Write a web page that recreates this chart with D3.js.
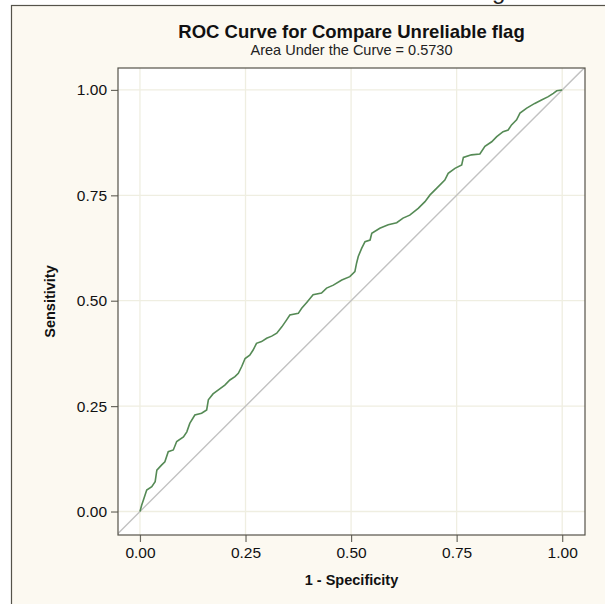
<!DOCTYPE html>
<html>
<head>
<meta charset="utf-8">
<script src="https://cdn.jsdelivr.net/npm/d3@7"></script>
<style>
  body { margin: 0; background: #fff; }
  svg { display: block; font-family: "Liberation Sans", Arial, sans-serif; }
</style>
</head>
<body>
<div id="chart"></div>
<script>
// ROC points (1 - specificity, sensitivity)
const fpr = [0, 0.004, 0.008, 0.016, 0.028, 0.036, 0.040, 0.051, 0.059, 0.067,
  0.079, 0.087, 0.103, 0.111, 0.118, 0.130, 0.146, 0.158, 0.162, 0.173,
  0.185, 0.201, 0.213, 0.225, 0.233, 0.241, 0.249, 0.260, 0.268, 0.276,
  0.288, 0.300, 0.312, 0.324, 0.336, 0.347, 0.355, 0.375, 0.383, 0.395,
  0.410, 0.430, 0.442, 0.458, 0.478, 0.497, 0.509, 0.513, 0.517, 0.525,
  0.533, 0.545, 0.549, 0.568, 0.588, 0.608, 0.623, 0.639, 0.659, 0.675,
  0.687, 0.703, 0.722, 0.730, 0.746, 0.762, 0.766, 0.785, 0.805, 0.817,
  0.833, 0.845, 0.860, 0.872, 0.880, 0.892, 0.900, 0.916, 0.935, 0.951,
  0.967, 0.979, 0.987, 1];
const tpr = [0, 0.015, 0.027, 0.051, 0.059, 0.071, 0.098, 0.110, 0.118, 0.142,
  0.146, 0.166, 0.177, 0.189, 0.209, 0.229, 0.233, 0.241, 0.265, 0.279,
  0.288, 0.300, 0.312, 0.320, 0.328, 0.344, 0.363, 0.371, 0.383, 0.399,
  0.403, 0.411, 0.416, 0.423, 0.438, 0.454, 0.466, 0.470, 0.482, 0.496,
  0.514, 0.518, 0.530, 0.537, 0.549, 0.557, 0.569, 0.589, 0.605, 0.624,
  0.640, 0.644, 0.660, 0.672, 0.680, 0.685, 0.696, 0.703, 0.719, 0.735,
  0.751, 0.767, 0.786, 0.802, 0.814, 0.822, 0.840, 0.846, 0.848, 0.866,
  0.877, 0.889, 0.901, 0.905, 0.917, 0.929, 0.945, 0.957, 0.968, 0.976,
  0.984, 0.992, 0.998, 1];
const ticks = [0, 0.25, 0.5, 0.75, 1];
const title = "ROC Curve for Compare Unreliable flag";
const subtitle = "Area Under the Curve = 0.5730";

const width = 605, height = 604;
const pLeft = 118, pRight = 585, pTop = 68, pBottom = 535;

const svg = d3.select("#chart").append("svg")
  .attr("width", width)
  .attr("height", height);

// outer frame (cream page with edge at left and top)
svg.append("rect").attr("width", width).attr("height", height).attr("fill", "#fff");
svg.append("rect")
  .attr("x", 11.5).attr("y", 5.5)
  .attr("width", width).attr("height", height)
  .attr("fill", "#fcf9f1")
  .attr("stroke", "#55534a").attr("stroke-width", 1.2);

// clipped letter from text above the frame
svg.append("text")
  .attr("x", 492).attr("y", -1.5)
  .attr("font-size", 24)
  .attr("fill", "#222")
  .text("g");

const x = d3.scaleLinear().domain([-0.052, 1.054]).range([pLeft, pRight]);
const y = d3.scaleLinear().domain([-0.0557, 1.052]).range([pBottom, pTop]);

svg.append("rect")
  .attr("x", pLeft).attr("y", pTop)
  .attr("width", pRight - pLeft).attr("height", pBottom - pTop)
  .attr("fill", "#fff");

svg.append("clipPath").attr("id", "clip")
  .append("rect")
  .attr("x", pLeft).attr("y", pTop)
  .attr("width", pRight - pLeft).attr("height", pBottom - pTop);

// grid
const grid = svg.append("g");
grid.selectAll(".gx").data(ticks).join("line")
  .attr("x1", d => x(d)).attr("x2", d => x(d))
  .attr("y1", pTop).attr("y2", pBottom)
  .attr("stroke", "#efeee1").attr("stroke-width", 1.3);
grid.selectAll(".gy").data(ticks).join("line")
  .attr("y1", d => y(d)).attr("y2", d => y(d))
  .attr("x1", pLeft).attr("x2", pRight)
  .attr("stroke", "#efeee1").attr("stroke-width", 1.3);

// chance diagonal
svg.append("line")
  .attr("clip-path", "url(#clip)")
  .attr("x1", x(-0.06)).attr("y1", y(-0.06))
  .attr("x2", x(1.06)).attr("y2", y(1.06))
  .attr("stroke", "#c2c2c2").attr("stroke-width", 1.4);

// ROC curve
const pts = fpr.map((f, i) => [f, tpr[i]]);
svg.append("path")
  .datum(pts)
  .attr("clip-path", "url(#clip)")
  .attr("fill", "none")
  .attr("stroke", "#558a55")
  .attr("stroke-width", 1.6)
  .attr("d", d3.line().x(d => x(d[0])).y(d => y(d[1])));

// axes
const fmt = d3.format(".2f");
const xAxis = svg.append("g")
  .attr("transform", `translate(0,${pBottom})`)
  .call(d3.axisBottom(x).tickValues(ticks).tickFormat(fmt).tickSize(7).tickPadding(5));
const yAxis = svg.append("g")
  .attr("transform", `translate(${pLeft},0)`)
  .call(d3.axisLeft(y).tickValues(ticks).tickFormat(fmt).tickSize(7).tickPadding(4));
[xAxis, yAxis].forEach(a => {
  a.select(".domain").remove();
  a.selectAll(".tick line").attr("stroke", "#6b6960").attr("stroke-width", 1.2);
  a.selectAll(".tick text")
    .attr("fill", "#111")
    .attr("font-size", 15.5)
    .attr("font-family", "Liberation Sans, Arial, sans-serif");
});

// plot border
svg.append("rect")
  .attr("x", pLeft).attr("y", pTop)
  .attr("width", pRight - pLeft).attr("height", pBottom - pTop)
  .attr("fill", "none")
  .attr("stroke", "#55534a").attr("stroke-width", 1.2);

// titles
svg.append("text")
  .attr("x", (pLeft + pRight) / 2).attr("y", 38)
  .attr("text-anchor", "middle")
  .attr("font-size", 18.5).attr("font-weight", "bold")
  .attr("fill", "#111")
  .text(title);
svg.append("text")
  .attr("x", (pLeft + pRight) / 2).attr("y", 55)
  .attr("text-anchor", "middle")
  .attr("font-size", 14.5)
  .attr("fill", "#222")
  .text(subtitle);

svg.append("text")
  .attr("x", (pLeft + pRight) / 2).attr("y", 585)
  .attr("text-anchor", "middle")
  .attr("font-size", 14.5).attr("font-weight", "bold")
  .attr("fill", "#111")
  .text("1 - Specificity");
svg.append("text")
  .attr("transform", `translate(55,${(pTop + pBottom) / 2}) rotate(-90)`)
  .attr("text-anchor", "middle")
  .attr("font-size", 14.5).attr("font-weight", "bold")
  .attr("fill", "#111")
  .text("Sensitivity");
</script>
</body>
</html>
